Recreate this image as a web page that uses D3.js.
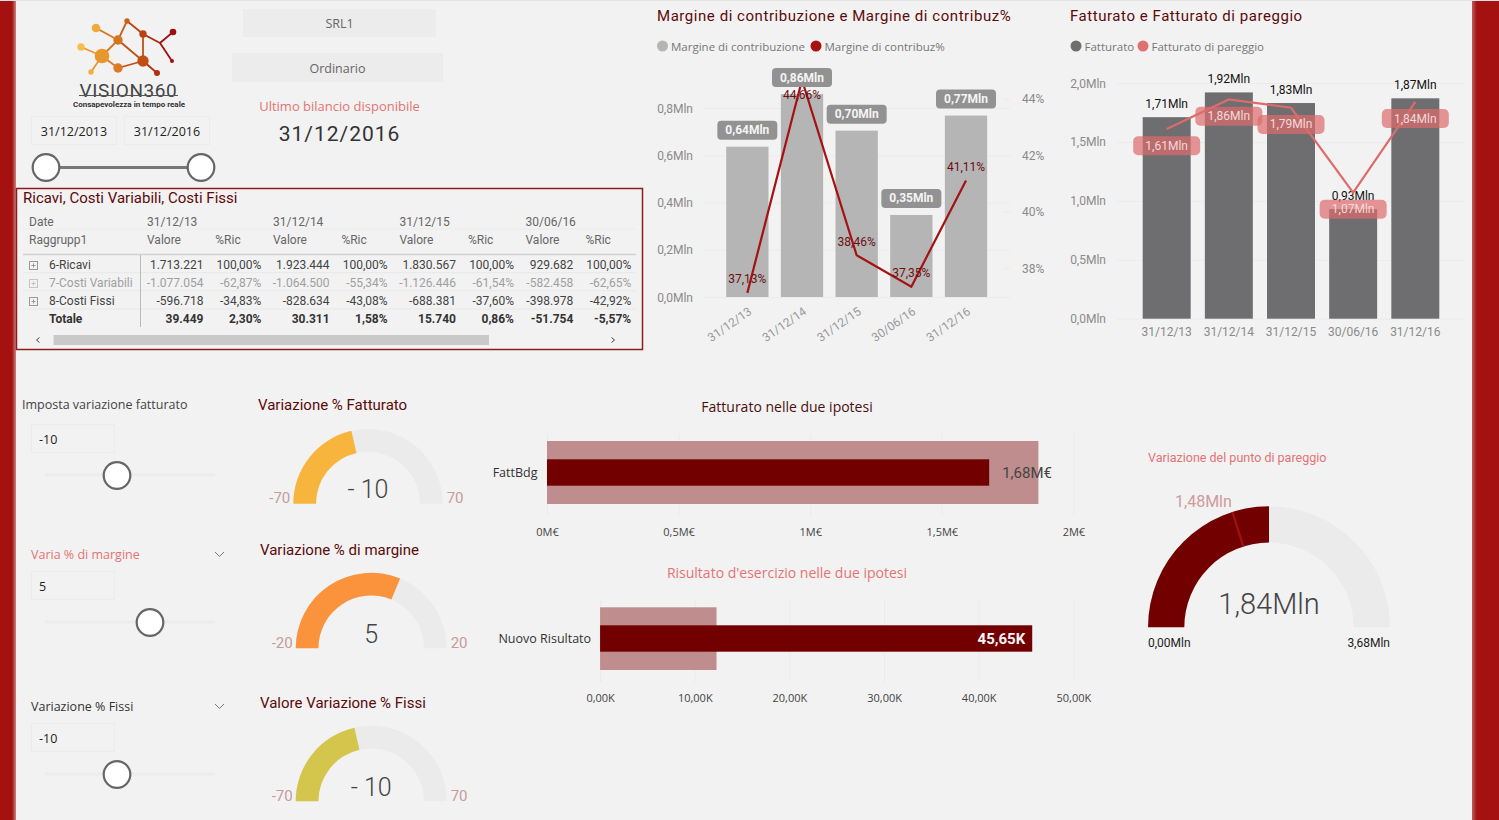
<!DOCTYPE html>
<html>
  <head>
    <meta charset="utf-8">
    <script src="https://d3js.org/d3.v7.min.js"></script>
    <style>
      body { margin: 0; background: #f2f2f2; overflow: hidden; }
      text { dominant-baseline: central; }
      .din { font-family: Roboto, sans-serif; }
      .seg { font-family: "Open Sans", sans-serif; }
      .grid line { stroke: #ebebeb; }
      .grid path { display: none; }
      .axis path { display: none; }
      .axis line { display: none; }
    </style>
  </head>
  <body>
    <div id="dash"></div>
    <script>
      // --- data ---
      const periods = ['31/12/13', '31/12/14', '31/12/15', '30/06/16', '31/12/16'];
      const margine = [636167, 858944, 704121, 347224, 768000];
      const marginePct = [37.13, 44.66, 38.46, 37.35, 41.11];
      const fatturato = [1.71, 1.92, 1.83, 0.93, 1.87];
      const pareggio = [1.61, 1.86, 1.79, 1.07, 1.84];
      const margineTicks = [0, 0.2, 0.4, 0.6, 0.8];
      const pctTicks = [38, 40, 42, 44];
      const fattTicks = [0, 0.5, 1, 1.5, 2];

      const tablePeriods = ['31/12/13', '31/12/14', '31/12/15', '30/06/16'];
      const tableRows = ['6-Ricavi', '7-Costi Variabili', '8-Costi Fissi', 'Totale'];
      const tableValues = [
        ['1.713.221', '100,00%', '1.923.444', '100,00%', '1.830.567', '100,00%', '929.682', '100,00%'],
        ['-1.077.054', '-62,87%', '-1.064.500', '-55,34%', '-1.126.446', '-61,54%', '-582.458', '-62,65%'],
        ['-596.718', '-34,83%', '-828.634', '-43,08%', '-688.381', '-37,60%', '-398.978', '-42,92%'],
        ['39.449', '2,30%', '30.311', '1,58%', '15.740', '0,86%', '-51.754', '-5,57%']
      ];

      const bulletFatt = { label: 'FattBdg', target: 1.867, value: 1.68 };
      const bulletRis = { label: 'Nuovo Risultato', target: 12.3, value: 45.65 };
      const bulletFattTicks = [0, 0.5, 1, 1.5, 2];
      const bulletRisTicks = [0, 10, 20, 30, 40, 50];

      const comma = (v, d) => v.toFixed(d).replace('.', ',');
      const dark = '#5c0a0a', pink = '#e57373', tick = '#8a8a8a';

      const svg = d3.select('#dash').append('svg')
        .attr('width', 1499).attr('height', 820)
        .style('display', 'block');

      function label(x, y, s, cls, size, fill, anchor, weight) {
        return svg.append('text').attr('class', cls)
          .attr('x', x).attr('y', y)
          .attr('font-size', size).attr('fill', fill)
          .attr('text-anchor', anchor || 'start')
          .attr('font-weight', weight || 400)
          .text(s);
      }

      // side bands
      const defs = svg.append('defs');
      function fade(id, stops) {
        const g = defs.append('linearGradient').attr('id', id);
        stops.forEach(s => g.append('stop').attr('offset', s[0]).attr('stop-color', s[1]));
      }
      fade('fadeL', [[0.75, '#a51111'], [1, '#c98484']]);
      fade('fadeR', [[0, '#c05a5a'], [0.18, '#a51111']]);
      svg.append('rect').attr('width', 1499).attr('height', 1).attr('fill', '#e2e2e2');
      svg.append('rect').attr('y', 1).attr('width', 16).attr('height', 819).attr('fill', 'url(#fadeL)');
      svg.append('rect').attr('x', 1472).attr('y', 1).attr('width', 27).attr('height', 819).attr('fill', 'url(#fadeR)');

      // --- logo ---
      const logoNodes = [
        [96, 28, 4.3, '#f2a93b'], [81, 47, 3.7, '#f7bd4e'], [102, 56, 7.3, '#e8962e'], [91, 72, 2.7, '#f5ae3c'],
        [118, 40, 4.7, '#d5761f'], [118, 68, 4.7, '#dc7a28'], [143, 61, 5.7, '#c04f15'], [127, 21, 2.7, '#c9601a'],
        [143, 34, 3.7, '#b8430f'], [157, 73, 3, '#b0300f'], [173, 32, 3.3, '#a00f0f'], [172, 61, 2, '#a01010'], [160, 43, 0.5, '#a82a10']
      ];
      const logoEdges = [[0, 4], [1, 2], [3, 2], [2, 4], [2, 5], [4, 7], [4, 6], [5, 6], [7, 8], [8, 6], [6, 9], [8, 12], [12, 10], [12, 11]];
      svg.append('g').selectAll('line').data(logoEdges).join('line')
        .attr('x1', d => logoNodes[d[0]][0]).attr('y1', d => logoNodes[d[0]][1])
        .attr('x2', d => logoNodes[d[1]][0]).attr('y2', d => logoNodes[d[1]][1])
        .attr('stroke', d => logoNodes[d[1]][3]).attr('stroke-width', 1.8);
      svg.append('g').selectAll('circle').data(logoNodes).join('circle')
        .attr('cx', d => d[0]).attr('cy', d => d[1]).attr('r', d => d[2]).attr('fill', d => d[3]);
      label(128.5, 90, 'VISION360', 'din', 19, '#444', 'middle').attr('letter-spacing', 0.6);
      svg.append('rect').attr('x', 79).attr('y', 95).attr('width', 99).attr('height', 1).attr('fill', '#555');
      label(129, 104.5, 'Consapevolezza in tempo reale', 'din', 8, '#333', 'middle', 700);

      // --- top slicers ---
      function box(x, y, w, h, fill, stroke) {
        svg.append('rect').attr('x', x).attr('y', y).attr('width', w).attr('height', h)
          .attr('fill', fill).attr('stroke', stroke || 'none');
      }
      function knob(x, y) {
        svg.append('circle').attr('cx', x).attr('cy', y).attr('r', 13.3)
          .attr('fill', '#fff').attr('stroke', '#666').attr('stroke-width', 2.2);
      }
      box(243, 9, 193, 28, '#ececec');
      label(339.5, 23, 'SRL1', 'seg', 12.5, '#666', 'middle');
      box(232, 53, 211, 29, '#ececec');
      label(337.5, 68, 'Ordinario', 'seg', 12.5, '#666', 'middle');
      label(339.5, 106, 'Ultimo bilancio disponibile', 'seg', 13, pink, 'middle');
      label(339.5, 134, '31/12/2016', 'din', 21, '#333', 'middle').attr('letter-spacing', 1);

      box(31.5, 116.5, 85, 28, 'none', '#ececec');
      box(124.5, 116.5, 85, 28, 'none', '#ececec');
      label(74, 131, '31/12/2013', 'seg', 12.5, '#222', 'middle');
      label(167, 131, '31/12/2016', 'seg', 12.5, '#222', 'middle');
      svg.append('line').attr('x1', 46).attr('x2', 201).attr('y1', 167.5).attr('y2', 167.5)
        .attr('stroke', '#777').attr('stroke-width', 3);
      knob(46, 167.5);
      knob(201, 167.5);

      // --- matrix ---
      box(16.5, 188.5, 626, 161, 'none', '#8f1c1c');
      svg.selectAll('rect').filter(function () { return this.getAttribute('stroke') === '#8f1c1c'; }).attr('stroke-width', 1.5);
      label(23, 198, 'Ricavi, Costi Variabili, Costi Fissi', 'din', 15, dark);

      const valueRight = d3.scaleOrdinal().domain(d3.range(8)).range([203.5, 261.4, 329.6, 387.6, 456, 514, 573.3, 631.2]);
      const headLeft = [147, 215.3, 273, 341.4, 399.4, 468, 525.5, 585.5];
      const rowY = d3.scalePoint().domain(tableRows).range([265, 319]);

      label(29, 222, 'Date', 'din', 12, '#666');
      label(29, 240, 'Raggrupp1', 'din', 12, '#666');
      tablePeriods.forEach((p, i) => {
        label(headLeft[i * 2], 222, p, 'din', 12, '#666');
        label(headLeft[i * 2], 240, 'Valore', 'din', 12, '#666');
        label(headLeft[i * 2 + 1], 240, '%Ric', 'din', 12, '#666');
      });
      [[229, 1, '#ececec'], [254.5, 1.5, '#d2d2d2'], [272.7, 1, '#e8e8e8'], [290.7, 1, '#e8e8e8'], [309, 1, '#e8e8e8']].forEach(l => {
        svg.append('line').attr('x1', 23).attr('x2', 636).attr('y1', l[0]).attr('y2', l[0])
          .attr('stroke', l[2]).attr('stroke-width', l[1]);
      });
      svg.append('line').attr('x1', 140.5).attr('x2', 140.5).attr('y1', 255).attr('y2', 327).attr('stroke', '#bbb');

      const rowColor = ['#444', '#a0a0a0', '#444', '#333'];
      tableRows.forEach((r, i) => {
        const y = rowY(r);
        const bold = r === 'Totale';
        if (!bold) {
          const c = i === 1 ? '#c4c4c4' : '#999';
          box(29.5, y - 3.5, 8, 8, 'none', c);
          svg.append('path').attr('d', `M31.5 ${y + 0.5}h4M33.5 ${y - 1.5}v4`).attr('stroke', c).attr('fill', 'none');
        }
        label(49, y, r, 'din', 12, rowColor[i], 'start', bold ? 700 : 400);
        svg.append('g').selectAll('text').data(tableValues[i]).join('text')
          .attr('class', 'din')
          .attr('x', (d, j) => valueRight(j)).attr('y', y)
          .attr('text-anchor', 'end').attr('font-size', 12)
          .attr('font-weight', bold ? 700 : 400)
          .attr('fill', rowColor[i]).text(d => d);
      });
      box(53.5, 335, 435.5, 10, '#c9c9c9');
      svg.append('path').attr('d', 'M39.5 337.5l-3 2.5l3 2.5M611.5 337.5l3 2.5l-3 2.5').attr('stroke', '#444').attr('fill', 'none');

      // --- shared bits for the two combo charts ---
      function legend(items) {
        items.forEach(it => {
          svg.append('circle').attr('cx', it[0]).attr('cy', 46).attr('r', 5.5).attr('fill', it[2]);
          label(it[0] + 8.5, 46, it[1], 'seg', 11.5, '#777');
        });
      }
      function yAxis(g, scale, ticks, fmt, x0, x1, right) {
        const a = g.append('g').attr('class', 'grid').attr('transform', `translate(${x0},0)`)
          .call(d3.axisRight(scale).tickValues(ticks).tickSize(x1 - x0).tickFormat(''));
        a.selectAll('text').remove();
        const t = g.append('g').attr('class', 'axis din')
          .attr('transform', `translate(${right},0)`)
          .call((right > x1 ? d3.axisRight(scale) : d3.axisLeft(scale)).tickValues(ticks).tickSize(0).tickPadding(0).tickFormat(fmt));
        t.selectAll('text').attr('fill', tick).attr('font-size', 12).attr('dy', null);
      }

      // --- Margine di contribuzione ---
      label(657, 16, 'Margine di contribuzione e Margine di contribuz%', 'din', 15, dark).attr('letter-spacing', 0.55);
      legend([[662.5, 'Margine di contribuzione', '#b5b5b5'], [816, 'Margine di contribuz%', '#a61111']]);

      const x1 = d3.scaleBand().domain(periods).range([720, 993.35]).paddingInner(0.226).paddingOuter(0.113);
      const yM = d3.scaleLinear().domain([0, 0.8]).range([297, 108]);
      const yP = d3.scaleLinear().domain([38, 44]).range([268.3, 98.7]);
      const c1 = svg.append('g');
      yAxis(c1, yP, pctTicks, d => d + '%', 1003, 1011, 1022);
      yAxis(c1, yM, margineTicks, d => comma(d, 1) + 'Mln', 703, 1010, 693);

      c1.selectAll('rect.bar').data(margine).join('rect').attr('class', 'bar')
        .attr('x', (d, i) => x1(periods[i])).attr('width', x1.bandwidth())
        .attr('y', d => yM(d / 1e6)).attr('height', d => yM(0) - yM(d / 1e6))
        .attr('fill', '#b5b5b5');

      c1.selectAll('text.xt').data(periods).join('text').attr('class', 'xt din')
        .attr('transform', d => `translate(${x1(d) + x1.bandwidth() / 2 + 3},310) rotate(-35)`)
        .attr('text-anchor', 'end').attr('font-size', 12).attr('fill', '#999').text(d => d);

      const line1 = d3.line().x((d, i) => x1(periods[i]) + x1.bandwidth() / 2).y(d => yP(d));
      c1.append('path').datum(marginePct).attr('d', line1)
        .attr('fill', 'none').attr('stroke', '#a61111').attr('stroke-width', 2.2);

      margine.forEach((d, i) => {
        const cx = x1(periods[i]) + x1.bandwidth() / 2;
        const top = yM(d / 1e6);
        c1.append('rect').attr('x', cx - 30).attr('y', top - 26).attr('width', 60).attr('height', 19).attr('rx', 4)
          .attr('fill', '#929292');
        c1.append('text').attr('class', 'din').attr('x', cx).attr('y', top - 16.5)
          .attr('text-anchor', 'middle').attr('font-size', 12).attr('font-weight', 700).attr('fill', '#f4f4f4')
          .text(comma(d / 1e6, 2) + 'Mln');
        const py = yP(marginePct[i]);
        c1.append('text').attr('class', 'din').attr('x', cx).attr('y', py < 90 ? py + 15 : py - 13.5)
          .attr('text-anchor', 'middle').attr('font-size', 12).attr('fill', '#6b1010')
          .text(comma(marginePct[i], 2) + '%');
      });

      // --- Fatturato e pareggio ---
      label(1070, 16, 'Fatturato e Fatturato di pareggio', 'din', 15, dark).attr('letter-spacing', 0.55);
      legend([[1076, 'Fatturato', '#6e6e6e'], [1143, 'Fatturato di pareggio', '#e07070']]);

      const x2 = d3.scaleBand().domain(periods).range([1135.6, 1446.4]).paddingInner(0.228).paddingOuter(0.114);
      const yF = d3.scaleLinear().domain([0, 2]).range([318.7, 83]);
      const c2 = svg.append('g');
      yAxis(c2, yF, fattTicks, d => comma(d, 1) + 'Mln', 1117, 1465, 1106);

      c2.selectAll('rect.bar').data(fatturato).join('rect').attr('class', 'bar')
        .attr('x', (d, i) => x2(periods[i])).attr('width', x2.bandwidth())
        .attr('y', d => yF(d)).attr('height', d => yF(0) - yF(d))
        .attr('fill', '#6e6e70');

      c2.selectAll('text.xt').data(periods).join('text').attr('class', 'xt din')
        .attr('x', d => x2(d) + x2.bandwidth() / 2).attr('y', 331.7)
        .attr('text-anchor', 'middle').attr('font-size', 12).attr('fill', tick).text(d => d);

      fatturato.forEach((d, i) => {
        c2.append('text').attr('class', 'din')
          .attr('x', x2(periods[i]) + x2.bandwidth() / 2).attr('y', yF(d) - 13.5)
          .attr('text-anchor', 'middle').attr('font-size', 12).attr('fill', '#111')
          .text(comma(d, 2) + 'Mln');
      });
      const line2 = d3.line().x((d, i) => x2(periods[i]) + x2.bandwidth() / 2).y(d => yF(d));
      c2.append('path').datum(pareggio).attr('d', line2)
        .attr('fill', 'none').attr('stroke', '#dd6b6b').attr('stroke-width', 2.2);
      pareggio.forEach((d, i) => {
        const cx = x2(periods[i]) + x2.bandwidth() / 2;
        const cy = yF(d) + 16.7;
        c2.append('rect').attr('x', cx - 33.5).attr('y', cy - 9.5).attr('width', 67).attr('height', 19).attr('rx', 5)
          .attr('fill', '#dd6b6b').attr('opacity', 0.7);
        c2.append('text').attr('class', 'din').attr('x', cx).attr('y', cy)
          .attr('text-anchor', 'middle').attr('font-size', 12).attr('fill', '#f3d9d9')
          .text(comma(d, 2) + 'Mln');
      });

      // --- what-if slicers ---
      function whatIf(title, titleX, titleY, titleColor, val, boxY, trackY, knobX, chevron) {
        label(titleX, titleY, title, 'seg', 12.5, titleColor);
        if (chevron) {
          svg.append('path').attr('d', `M215 ${titleY - 2}l4.5 4.5l4.5 -4.5`).attr('stroke', '#777').attr('fill', 'none');
        }
        box(31.5, boxY + 0.5, 83, 28, 'none', '#ececec');
        label(39, boxY + 15, val, 'seg', 12.5, '#222');
        box(45, trackY - 1.5, 170, 3, '#ececec');
        knob(knobX, trackY + 0.5);
      }
      whatIf('Imposta variazione fatturato', 22, 404, '#444', '-10', 424, 475, 117, false);
      whatIf('Varia % di margine', 31, 554, pink, '5', 571, 622, 150, true);
      whatIf('Variazione % Fissi', 31, 706, '#333', '-10', 723, 774, 117, true);

      // --- gauges ---
      function gauge(o) {
        const a = d3.scaleLinear().domain([o.min, o.max]).range([-Math.PI / 2, Math.PI / 2]);
        const arc = d3.arc().innerRadius(o.r0).outerRadius(o.r1);
        const g = svg.append('g').attr('transform', `translate(${o.cx},${o.cy})`);
        g.append('path').attr('d', arc({ startAngle: a(o.min), endAngle: a(o.max) })).attr('fill', '#ebebeb');
        g.append('path').attr('d', arc({ startAngle: a(o.min), endAngle: a(o.value) })).attr('fill', o.color);
        return { g, a };
      }
      const gauges = [
        { title: 'Variazione % Fatturato', tx: 258, ty: 405, cx: 368, cy: 503.7, r0: 52, r1: 74.7, min: -70, max: 70, value: -10, color: '#f7b53d' },
        { title: 'Variazione % di margine', tx: 260, ty: 549.5, cx: 371.2, cy: 648.3, r0: 52.8, r1: 75.5, min: -20, max: 20, value: 5, color: '#fb923c' },
        { title: 'Valore Variazione % Fissi', tx: 260, ty: 703, cx: 371.2, cy: 801.3, r0: 52.8, r1: 75.5, min: -70, max: 70, value: -10, color: '#d4c64c' }
      ];
      gauges.forEach(o => {
        gauge(o);
        label(o.tx, o.ty, o.title, 'din', 15, dark);
        label(o.cx - o.r1 - 3, o.cy - 5.5, o.min, 'din', 15, '#c59c9c', 'end');
        label(o.cx + o.r1 + 4, o.cy - 5.5, o.max, 'din', 15, '#c59c9c');
        label(o.cx, o.cy - 14, String(o.value).replace('-', '- '), 'din', 25, '#444', 'middle', 300);
      });

      const bep = gauge({ cx: 1269, cy: 627.3, r0: 84.7, r1: 121, min: 0, max: 3.68, value: 1.84, color: '#720000' });
      const tAng = bep.a(1.48) - Math.PI / 2;
      bep.g.append('line')
        .attr('x1', 84.7 * Math.cos(tAng)).attr('y1', 84.7 * Math.sin(tAng))
        .attr('x2', 121 * Math.cos(tAng)).attr('y2', 121 * Math.sin(tAng))
        .attr('stroke', '#a31515').attr('stroke-width', 2);
      label(1148, 457.5, 'Variazione del punto di pareggio', 'din', 12.5, pink);
      label(1175, 501.5, '1,48Mln', 'din', 16, '#cf9b9b');
      label(1269, 604, '1,84Mln', 'din', 29, '#444', 'middle', 300);
      label(1148, 643, '0,00Mln', 'din', 12, '#222');
      label(1390, 643, '3,68Mln', 'din', 12, '#222', 'end');

      // --- bullets ---
      function bullet(b, ticks, fmt, x0, x1, dMax, yy) {
        const x = d3.scaleLinear().domain([0, dMax]).range([x0, x1]);
        const g = svg.append('g');
        const ag = g.append('g').attr('class', 'grid').attr('transform', `translate(0,${yy.g0})`)
          .call(d3.axisBottom(x).tickValues(ticks).tickSize(yy.g1 - yy.g0).tickFormat(''));
        const al = g.append('g').attr('class', 'axis seg').attr('transform', `translate(0,${yy.lab})`)
          .call(d3.axisBottom(x).tickValues(ticks).tickSize(0).tickPadding(0).tickFormat(fmt));
        al.selectAll('text').attr('fill', '#444').attr('font-size', 11).attr('dy', null).attr('y', 0);
        g.append('rect').attr('x', x(0)).attr('width', x(b.target) - x(0))
          .attr('y', yy.o0).attr('height', yy.o1 - yy.o0).attr('fill', '#bf8d8d');
        g.append('rect').attr('x', x(0)).attr('width', x(b.value) - x(0))
          .attr('y', yy.i0).attr('height', yy.i1 - yy.i0).attr('fill', '#720000');
        label(x0 - yy.pad, (yy.i0 + yy.i1) / 2, b.label, 'seg', 12.5, '#333', 'end');
        return x;
      }
      label(787, 406.5, 'Fatturato nelle due ipotesi', 'seg', 14, '#4a1010', 'middle');
      const xB = bullet(bulletFatt, bulletFattTicks, d => comma(d, d % 1 ? 1 : 0) + 'M€', 547, 1073.4, 2,
        { g0: 434, g1: 515, lab: 531.5, o0: 441, o1: 504, i0: 459.3, i1: 485.7, pad: 9.5 });
      label(xB(bulletFatt.value) + 13, 472.5, '1,68M€', 'din', 15, '#444');

      label(787, 572.5, "Risultato d'esercizio nelle due ipotesi", 'seg', 14, pink, 'middle');
      const xR = bullet(bulletRis, bulletRisTicks, d => comma(d, 2) + 'K', 600.1, 1073.4, 50,
        { g0: 600, g1: 682, lab: 697.5, o0: 607.3, o1: 670, i0: 625.3, i1: 651.7, pad: 9 });
      label(xR(bulletRis.value) - 7, 638.5, '45,65K', 'din', 15, '#f6f6f6', 'end', 700);
    </script>
  </body>
</html>
